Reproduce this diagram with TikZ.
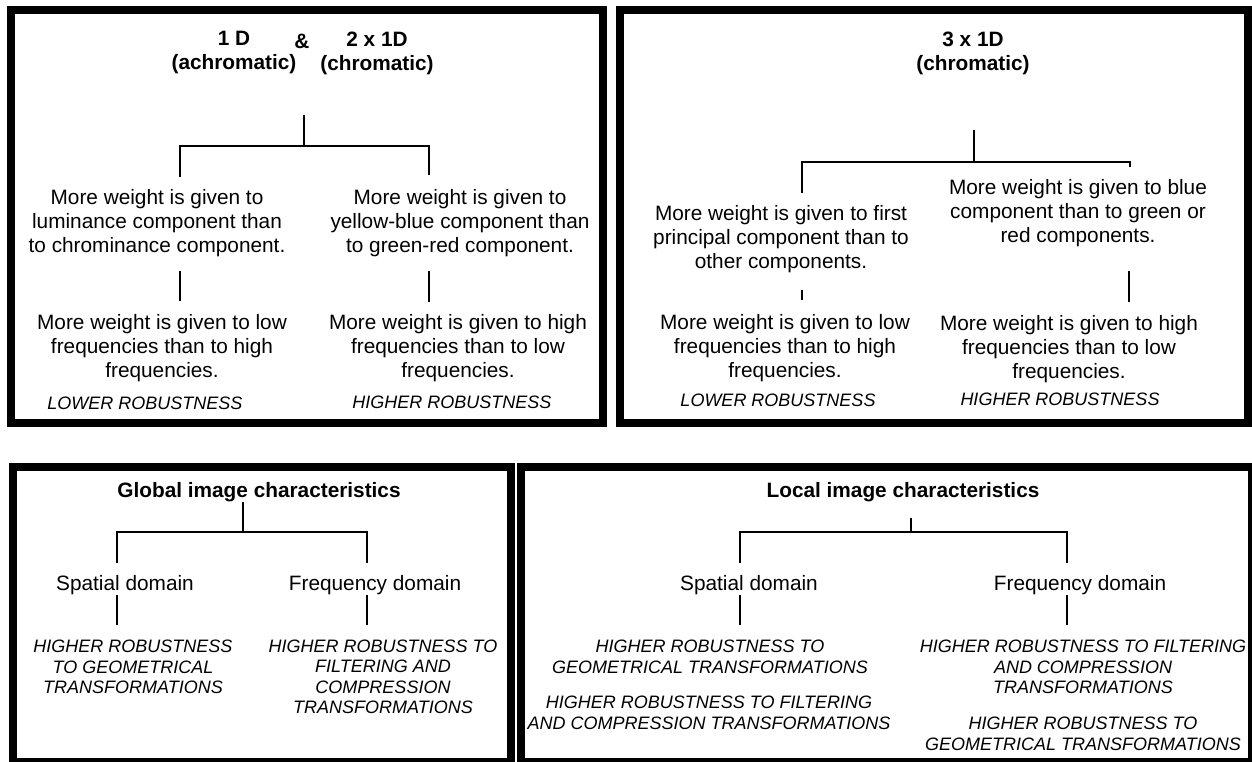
\documentclass[tikz,border=0pt]{standalone}
\usepackage{fontspec}
\setmainfont{Liberation Sans}
\begin{document}
\begin{tikzpicture}[x=1pt,y=-1pt,
  frame/.style={draw=drawColor,line width=8.5pt},
  link/.style={draw=drawColor,line width=1.8pt},
  head/.style={text=drawColor,inner sep=0pt,outer sep=0pt,align=center,font=\fontsize{20.8}{24}\selectfont\bfseries},
  body/.style={text=drawColor,inner sep=0pt,outer sep=0pt,align=center,font=\fontsize{20.8}{24}\selectfont},
  note/.style={text=drawColor,inner sep=0pt,outer sep=0pt,align=center,font=\fontsize{18}{20.5}\selectfont\itshape}]
\definecolor{drawColor}{RGB}{0,0,0}
\definecolor{fillColor}{RGB}{255,255,255}
\path[use as bounding box,fill=fillColor] (0,0) rectangle (1252,762);

% frames
\path[frame] ( 11, 10) rectangle ( 603,423);
\path[frame] (620, 10) rectangle (1248,423);
\path[frame] ( 13,467) rectangle ( 511,762);
\path[frame] (521,467) rectangle (1252,762);

% 1D & 2x1D
\node[head] (achrom) at (234, 53) {1 D\\(achromatic)};
\node[head] (amp) at (302, 41) {\&};
\node[head] (chrom) at (377, 53) {2 x 1D\\(chromatic)};
\node[body] (lumin) at (157,223) {More weight is given to\\luminance component than\\to chrominance component.};
\node[body] (yelblue) at (460,223) {More weight is given to\\yellow-blue component than\\to green-red component.};
\node[body] (lowfreqA) at (162,348) {More weight is given to low\\frequencies than to high\\frequencies.};
\node[body] (highfreqA) at (458,348) {More weight is given to high\\frequencies than to low\\frequencies.};
\node[note] (lowerA) at (145,403) {LOWER ROBUSTNESS};
\node[note] (higherA) at (452,402) {HIGHER ROBUSTNESS};

\coordinate (a0) at (304,115);
\coordinate (a1) at (304,146);
\coordinate (aL) at (180,146);
\coordinate (aR) at (429,146);
\coordinate (aL1) at (180,177);
\coordinate (aR1) at (429,175);
\coordinate (aL2) at (180,271);
\coordinate (aL3) at (180,301);
\coordinate (aR2) at (429,271);
\coordinate (aR3) at (429,302);
\path[link] (a0) -- (a1) (aL1) -- (aL) -- (aR) -- (aR1);
\path[link] (aL2) -- (aL3) (aR2) -- (aR3);

% 3x1D
\node[head] (three) at (973, 53) {3 x 1D\\(chromatic)};
\node[body] (princ) at (781,239) {More weight is given to first\\principal component than to\\other components.};
\node[body] (blue) at (1078,213) {More weight is given to blue\\component than to green or\\red components.};
\node[body] (lowfreqB) at (785,348) {More weight is given to low\\frequencies than to high\\frequencies.};
\node[body] (highfreqB) at (1069,349) {More weight is given to high\\frequencies than to low\\frequencies.};
\node[note] (lowerB) at (778,400) {LOWER ROBUSTNESS};
\node[note] (higherB) at (1060,399) {HIGHER ROBUSTNESS};

\coordinate (b0) at (974,130);
\coordinate (b1) at (974,162);
\coordinate (bL) at (802,162);
\coordinate (bR) at (1130,162);
\coordinate (bL1) at (802,193);
\coordinate (bR1) at (1130,167);
\coordinate (bL2) at (802,290);
\coordinate (bL3) at (802,300);
\coordinate (bR2) at (1129,271);
\coordinate (bR3) at (1129,302);
\path[link] (b0) -- (b1) (bL1) -- (bL) -- (bR) -- (bR1);
\path[link] (bL2) -- (bL3) (bR2) -- (bR3);

% global
\node[head] (global) at (259,492) {Global image characteristics};
\node[body] (spatC) at (125,585) {Spatial domain};
\node[body] (freqC) at (375,585) {Frequency domain};
\node[note] (geomC) at (133,667) {HIGHER ROBUSTNESS\\TO GEOMETRICAL\\TRANSFORMATIONS};
\node[note] (filtC) at (383,677) {HIGHER ROBUSTNESS TO\\FILTERING AND\\COMPRESSION\\TRANSFORMATIONS};

\coordinate (c0) at (243,502);
\coordinate (c1) at (243,532);
\coordinate (cL) at (117,532);
\coordinate (cR) at (367,532);
\coordinate (cL1) at (117,563);
\coordinate (cR1) at (367,563);
\coordinate (cL2) at (117,595);
\coordinate (cL3) at (117,625);
\coordinate (cR2) at (367,595);
\coordinate (cR3) at (367,625);
\path[link] (c0) -- (c1) (cL1) -- (cL) -- (cR) -- (cR1);
\path[link] (cL2) -- (cL3) (cR2) -- (cR3);

% local
\node[head] (local) at (903,492) {Local image characteristics};
\node[body] (spatD) at (749,585) {Spatial domain};
\node[body] (freqD) at (1080,585) {Frequency domain};
\node[note] (geomD) at (710,657) {HIGHER ROBUSTNESS TO\\GEOMETRICAL TRANSFORMATIONS};
\node[note] (filtD) at (709,713) {HIGHER ROBUSTNESS TO FILTERING\\AND COMPRESSION TRANSFORMATIONS};
\node[note] (filtE) at (1083,667) {HIGHER ROBUSTNESS TO FILTERING\\AND COMPRESSION\\TRANSFORMATIONS};
\node[note] (geomE) at (1083,734) {HIGHER ROBUSTNESS TO\\GEOMETRICAL TRANSFORMATIONS};

\coordinate (d0) at (911,518);
\coordinate (d1) at (911,532);
\coordinate (dL) at (740,532);
\coordinate (dR) at (1067,532);
\coordinate (dL1) at (740,563);
\coordinate (dR1) at (1067,563);
\coordinate (dL2) at (740,595);
\coordinate (dL3) at (740,625);
\coordinate (dR2) at (1067,595);
\coordinate (dR3) at (1067,625);
\path[link] (d0) -- (d1) (dL1) -- (dL) -- (dR) -- (dR1);
\path[link] (dL2) -- (dL3) (dR2) -- (dR3);
\end{tikzpicture}
\end{document}
